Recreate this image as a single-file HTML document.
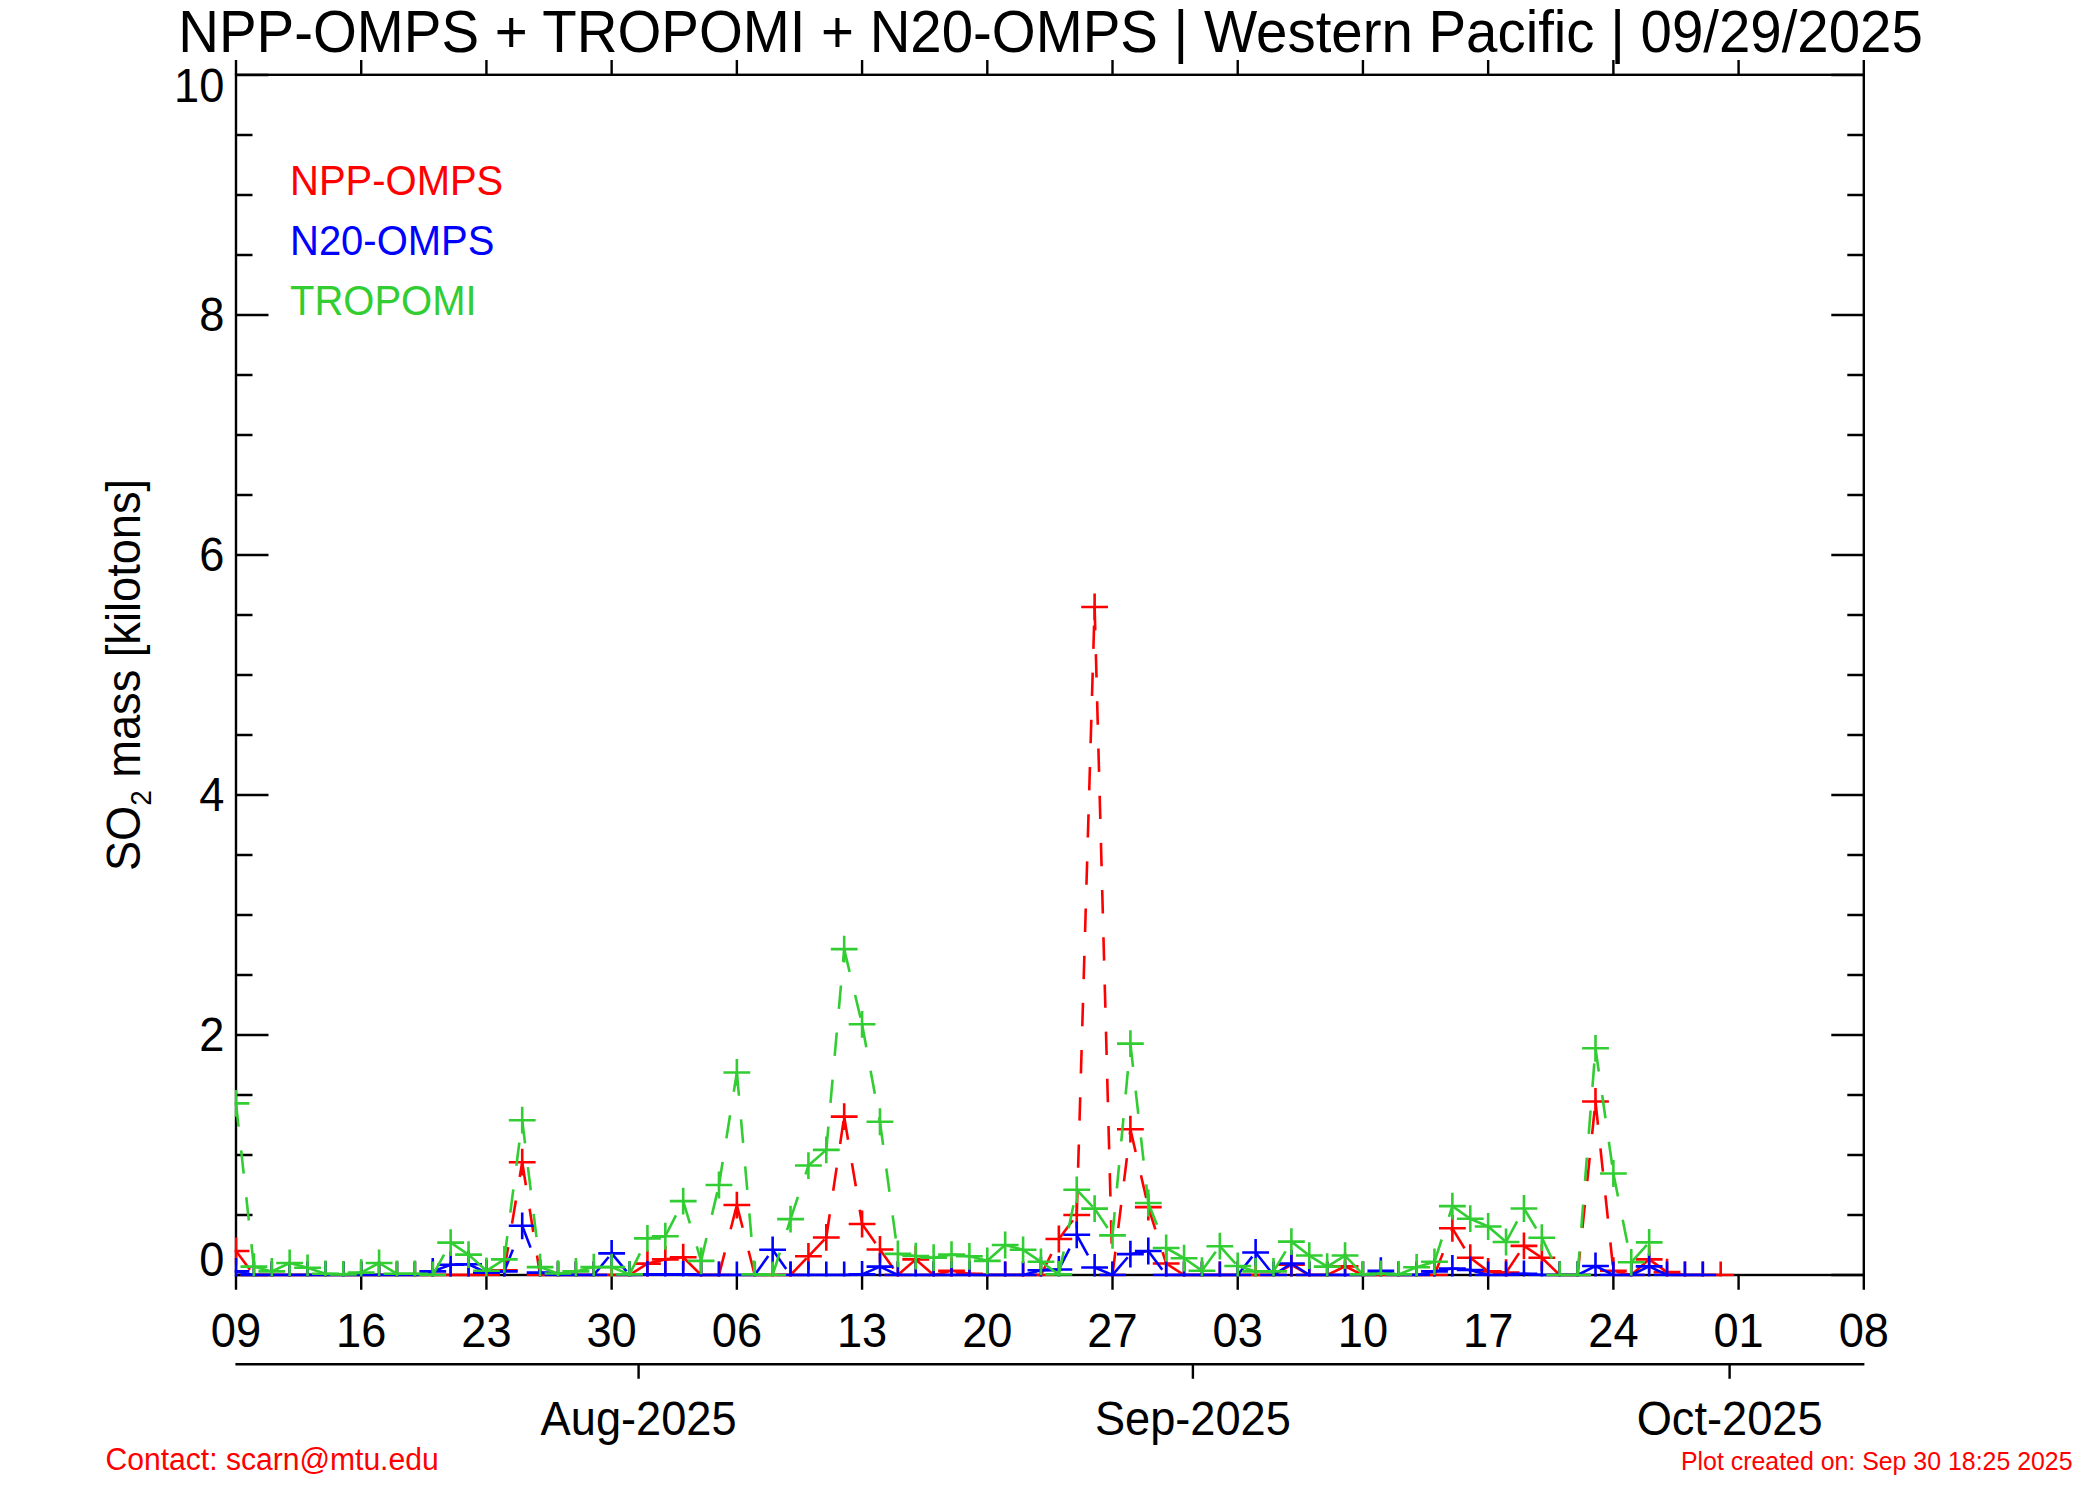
<!DOCTYPE html>
<html><head><meta charset="utf-8"><title>SO2 mass time series</title>
<style>html,body{margin:0;padding:0;background:#fff}svg{display:block}</style></head>
<body><svg width="2100" height="1500" viewBox="0 0 2100 1500">
<rect width="2100" height="1500" fill="#fff"/>
<rect x="236.0" y="74.8" width="1627.8" height="1200.2" fill="none" stroke="#000" stroke-width="2.4"/>
<path d="M236.0 1275.00h32.5M1863.8 1275.00h-32.5M236.0 1215.00h16.5M1863.8 1215.00h-16.5M236.0 1155.00h16.5M1863.8 1155.00h-16.5M236.0 1095.00h16.5M1863.8 1095.00h-16.5M236.0 1035.00h32.5M1863.8 1035.00h-32.5M236.0 975.00h16.5M1863.8 975.00h-16.5M236.0 915.00h16.5M1863.8 915.00h-16.5M236.0 855.00h16.5M1863.8 855.00h-16.5M236.0 795.00h32.5M1863.8 795.00h-32.5M236.0 735.00h16.5M1863.8 735.00h-16.5M236.0 675.00h16.5M1863.8 675.00h-16.5M236.0 615.00h16.5M1863.8 615.00h-16.5M236.0 555.00h32.5M1863.8 555.00h-32.5M236.0 495.00h16.5M1863.8 495.00h-16.5M236.0 435.00h16.5M1863.8 435.00h-16.5M236.0 375.00h16.5M1863.8 375.00h-16.5M236.0 315.00h32.5M1863.8 315.00h-32.5M236.0 255.00h16.5M1863.8 255.00h-16.5M236.0 195.00h16.5M1863.8 195.00h-16.5M236.0 135.00h16.5M1863.8 135.00h-16.5M236.0 75.00h32.5M1863.8 75.00h-32.5M236.00 74.8v-14.8M236.00 1275.0v14.8M361.22 74.8v-14.8M361.22 1275.0v14.8M486.43 74.8v-14.8M486.43 1275.0v14.8M611.65 74.8v-14.8M611.65 1275.0v14.8M736.86 74.8v-14.8M736.86 1275.0v14.8M862.08 74.8v-14.8M862.08 1275.0v14.8M987.30 74.8v-14.8M987.30 1275.0v14.8M1112.51 74.8v-14.8M1112.51 1275.0v14.8M1237.73 74.8v-14.8M1237.73 1275.0v14.8M1362.94 74.8v-14.8M1362.94 1275.0v14.8M1488.16 74.8v-14.8M1488.16 1275.0v14.8M1613.38 74.8v-14.8M1613.38 1275.0v14.8M1738.59 74.8v-14.8M1738.59 1275.0v14.8M1863.81 74.8v-14.8M1863.81 1275.0v14.8M235.40 1364.3H1864.40M638.6 1364.3v14.5M1192.9 1364.3v14.5M1729.6 1364.3v14.5" stroke="#000" stroke-width="2.4" fill="none"/>
<clipPath id="c"><rect x="234.6" y="73.5" width="1630.5" height="1203.1"/></clipPath>
<g clip-path="url(#c)">
<g stroke="#ff0000" stroke-width="2.6" fill="none" stroke-dasharray="23.4 23.8">
<path d="M236.00 1251.00L253.89 1275.00"/>
<path d="M253.89 1275.00L271.78 1275.00"/>
<path d="M271.78 1275.00L289.66 1275.00"/>
<path d="M289.66 1275.00L307.55 1275.00"/>
<path d="M307.55 1275.00L325.44 1275.00"/>
<path d="M325.44 1275.00L343.33 1275.00"/>
<path d="M343.33 1275.00L361.22 1275.00"/>
<path d="M361.22 1275.00L379.10 1275.00"/>
<path d="M379.10 1275.00L396.99 1275.00"/>
<path d="M396.99 1275.00L414.88 1275.00"/>
<path d="M414.88 1275.00L432.77 1275.00"/>
<path d="M432.77 1275.00L450.66 1275.00"/>
<path d="M450.66 1275.00L468.54 1275.00"/>
<path d="M468.54 1275.00L486.43 1275.00"/>
<path d="M486.43 1275.00L504.32 1270.20"/>
<path d="M504.32 1270.20L522.21 1162.20"/>
<path d="M522.21 1162.20L540.10 1275.00"/>
<path d="M540.10 1275.00L557.98 1275.00"/>
<path d="M557.98 1275.00L575.87 1275.00"/>
<path d="M575.87 1275.00L593.76 1275.00"/>
<path d="M593.76 1275.00L611.65 1275.00"/>
<path d="M611.65 1275.00L629.54 1275.00"/>
<path d="M629.54 1275.00L647.42 1263.60"/>
<path d="M647.42 1263.60L665.31 1259.40"/>
<path d="M665.31 1259.40L683.20 1257.24"/>
<path d="M683.20 1257.24L701.09 1275.00"/>
<path d="M701.09 1275.00L718.98 1275.00"/>
<path d="M718.98 1275.00L736.86 1205.04"/>
<path d="M736.86 1205.04L754.75 1275.00"/>
<path d="M754.75 1275.00L772.64 1275.00"/>
<path d="M772.64 1275.00L790.53 1275.00"/>
<path d="M790.53 1275.00L808.42 1256.28"/>
<path d="M808.42 1256.28L826.30 1237.44"/>
<path d="M826.30 1237.44L844.19 1116.60"/>
<path d="M844.19 1116.60L862.08 1224.00"/>
<path d="M862.08 1224.00L879.97 1249.44"/>
<path d="M879.97 1249.44L897.86 1275.00"/>
<path d="M897.86 1275.00L915.74 1259.40"/>
<path d="M915.74 1259.40L933.63 1275.00"/>
<path d="M933.63 1275.00L951.52 1270.80"/>
<path d="M951.52 1270.80L969.41 1273.80"/>
<path d="M969.41 1273.80L987.30 1275.00"/>
<path d="M987.30 1275.00L1005.18 1275.00"/>
<path d="M1005.18 1275.00L1023.07 1275.00"/>
<path d="M1023.07 1275.00L1040.96 1275.00"/>
<path d="M1040.96 1275.00L1058.85 1239.00"/>
<path d="M1058.85 1239.00L1076.74 1215.00"/>
<path d="M1076.74 1215.00L1094.62 606.96"/>
<path d="M1094.62 606.96L1112.51 1275.00"/>
<path d="M1112.51 1275.00L1130.40 1129.20"/>
<path d="M1130.40 1129.20L1148.29 1207.08"/>
<path d="M1148.29 1207.08L1166.18 1263.48"/>
<path d="M1166.18 1263.48L1184.06 1275.00"/>
<path d="M1184.06 1275.00L1201.95 1275.00"/>
<path d="M1201.95 1275.00L1219.84 1275.00"/>
<path d="M1219.84 1275.00L1237.73 1275.00"/>
<path d="M1237.73 1275.00L1255.62 1275.00"/>
<path d="M1255.62 1275.00L1273.50 1275.00"/>
<path d="M1273.50 1275.00L1291.39 1264.80"/>
<path d="M1291.39 1264.80L1309.28 1275.00"/>
<path d="M1309.28 1275.00L1327.17 1275.00"/>
<path d="M1327.17 1275.00L1345.06 1266.36"/>
<path d="M1345.06 1266.36L1362.94 1275.00"/>
<path d="M1362.94 1275.00L1380.83 1275.00"/>
<path d="M1380.83 1275.00L1398.72 1275.00"/>
<path d="M1398.72 1275.00L1416.61 1275.00"/>
<path d="M1416.61 1275.00L1434.50 1275.00"/>
<path d="M1434.50 1275.00L1452.38 1228.32"/>
<path d="M1452.38 1228.32L1470.27 1257.72"/>
<path d="M1470.27 1257.72L1488.16 1271.40"/>
<path d="M1488.16 1271.40L1506.05 1272.60"/>
<path d="M1506.05 1272.60L1523.94 1245.84"/>
<path d="M1523.94 1245.84L1541.82 1257.72"/>
<path d="M1541.82 1257.72L1559.71 1275.00"/>
<path d="M1559.71 1275.00L1577.60 1275.00"/>
<path d="M1577.60 1275.00L1595.49 1101.48"/>
<path d="M1595.49 1101.48L1613.38 1270.68"/>
<path d="M1613.38 1270.68L1631.26 1275.00"/>
<path d="M1631.26 1275.00L1649.15 1259.40"/>
<path d="M1649.15 1259.40L1667.04 1272.12"/>
<path d="M1667.04 1272.12L1684.93 1275.00"/>
<path d="M1684.93 1275.00L1702.82 1275.00"/>
<path d="M1702.82 1275.00L1720.70 1275.00"/>
</g>
<path d="M222.60 1251.00H249.40M236.00 1237.60V1264.40M240.49 1275.00H267.29M253.89 1261.60V1288.40M258.38 1275.00H285.18M271.78 1261.60V1288.40M276.26 1275.00H303.06M289.66 1261.60V1288.40M294.15 1275.00H320.95M307.55 1261.60V1288.40M312.04 1275.00H338.84M325.44 1261.60V1288.40M329.93 1275.00H356.73M343.33 1261.60V1288.40M347.82 1275.00H374.62M361.22 1261.60V1288.40M365.70 1275.00H392.50M379.10 1261.60V1288.40M383.59 1275.00H410.39M396.99 1261.60V1288.40M401.48 1275.00H428.28M414.88 1261.60V1288.40M419.37 1275.00H446.17M432.77 1261.60V1288.40M437.26 1275.00H464.06M450.66 1261.60V1288.40M455.14 1275.00H481.94M468.54 1261.60V1288.40M473.03 1275.00H499.83M486.43 1261.60V1288.40M490.92 1270.20H517.72M504.32 1256.80V1283.60M508.81 1162.20H535.61M522.21 1148.80V1175.60M526.70 1275.00H553.50M540.10 1261.60V1288.40M544.58 1275.00H571.38M557.98 1261.60V1288.40M562.47 1275.00H589.27M575.87 1261.60V1288.40M580.36 1275.00H607.16M593.76 1261.60V1288.40M598.25 1275.00H625.05M611.65 1261.60V1288.40M616.14 1275.00H642.94M629.54 1261.60V1288.40M634.02 1263.60H660.82M647.42 1250.20V1277.00M651.91 1259.40H678.71M665.31 1246.00V1272.80M669.80 1257.24H696.60M683.20 1243.84V1270.64M687.69 1275.00H714.49M701.09 1261.60V1288.40M705.58 1275.00H732.38M718.98 1261.60V1288.40M723.46 1205.04H750.26M736.86 1191.64V1218.44M741.35 1275.00H768.15M754.75 1261.60V1288.40M759.24 1275.00H786.04M772.64 1261.60V1288.40M777.13 1275.00H803.93M790.53 1261.60V1288.40M795.02 1256.28H821.82M808.42 1242.88V1269.68M812.90 1237.44H839.70M826.30 1224.04V1250.84M830.79 1116.60H857.59M844.19 1103.20V1130.00M848.68 1224.00H875.48M862.08 1210.60V1237.40M866.57 1249.44H893.37M879.97 1236.04V1262.84M884.46 1275.00H911.26M897.86 1261.60V1288.40M902.34 1259.40H929.14M915.74 1246.00V1272.80M920.23 1275.00H947.03M933.63 1261.60V1288.40M938.12 1270.80H964.92M951.52 1257.40V1284.20M956.01 1273.80H982.81M969.41 1260.40V1287.20M973.90 1275.00H1000.70M987.30 1261.60V1288.40M991.78 1275.00H1018.58M1005.18 1261.60V1288.40M1009.67 1275.00H1036.47M1023.07 1261.60V1288.40M1027.56 1275.00H1054.36M1040.96 1261.60V1288.40M1045.45 1239.00H1072.25M1058.85 1225.60V1252.40M1063.34 1215.00H1090.14M1076.74 1201.60V1228.40M1081.22 606.96H1108.02M1094.62 593.56V620.36M1099.11 1275.00H1125.91M1112.51 1261.60V1288.40M1117.00 1129.20H1143.80M1130.40 1115.80V1142.60M1134.89 1207.08H1161.69M1148.29 1193.68V1220.48M1152.78 1263.48H1179.58M1166.18 1250.08V1276.88M1170.66 1275.00H1197.46M1184.06 1261.60V1288.40M1188.55 1275.00H1215.35M1201.95 1261.60V1288.40M1206.44 1275.00H1233.24M1219.84 1261.60V1288.40M1224.33 1275.00H1251.13M1237.73 1261.60V1288.40M1242.22 1275.00H1269.02M1255.62 1261.60V1288.40M1260.10 1275.00H1286.90M1273.50 1261.60V1288.40M1277.99 1264.80H1304.79M1291.39 1251.40V1278.20M1295.88 1275.00H1322.68M1309.28 1261.60V1288.40M1313.77 1275.00H1340.57M1327.17 1261.60V1288.40M1331.66 1266.36H1358.46M1345.06 1252.96V1279.76M1349.54 1275.00H1376.34M1362.94 1261.60V1288.40M1367.43 1275.00H1394.23M1380.83 1261.60V1288.40M1385.32 1275.00H1412.12M1398.72 1261.60V1288.40M1403.21 1275.00H1430.01M1416.61 1261.60V1288.40M1421.10 1275.00H1447.90M1434.50 1261.60V1288.40M1438.98 1228.32H1465.78M1452.38 1214.92V1241.72M1456.87 1257.72H1483.67M1470.27 1244.32V1271.12M1474.76 1271.40H1501.56M1488.16 1258.00V1284.80M1492.65 1272.60H1519.45M1506.05 1259.20V1286.00M1510.54 1245.84H1537.34M1523.94 1232.44V1259.24M1528.42 1257.72H1555.22M1541.82 1244.32V1271.12M1546.31 1275.00H1573.11M1559.71 1261.60V1288.40M1564.20 1275.00H1591.00M1577.60 1261.60V1288.40M1582.09 1101.48H1608.89M1595.49 1088.08V1114.88M1599.98 1270.68H1626.78M1613.38 1257.28V1284.08M1617.86 1275.00H1644.66M1631.26 1261.60V1288.40M1635.75 1259.40H1662.55M1649.15 1246.00V1272.80M1653.64 1272.12H1680.44M1667.04 1258.72V1285.52M1671.53 1275.00H1698.33M1684.93 1261.60V1288.40M1689.42 1275.00H1716.22M1702.82 1261.60V1288.40M1707.30 1275.00H1734.10M1720.70 1261.60V1288.40" stroke="#ff0000" stroke-width="2.6" fill="none"/>
<g stroke="#0000ff" stroke-width="2.6" fill="none" stroke-dasharray="23.4 23.8">
<path d="M236.00 1271.40L253.89 1275.00"/>
<path d="M253.89 1275.00L271.78 1275.00"/>
<path d="M271.78 1275.00L289.66 1275.00"/>
<path d="M289.66 1275.00L307.55 1275.00"/>
<path d="M307.55 1275.00L325.44 1275.00"/>
<path d="M325.44 1275.00L343.33 1275.00"/>
<path d="M343.33 1275.00L361.22 1275.00"/>
<path d="M361.22 1275.00L379.10 1275.00"/>
<path d="M379.10 1275.00L396.99 1275.00"/>
<path d="M396.99 1275.00L414.88 1275.00"/>
<path d="M414.88 1275.00L432.77 1271.40"/>
<path d="M432.77 1271.40L450.66 1264.80"/>
<path d="M450.66 1264.80L468.54 1264.20"/>
<path d="M468.54 1264.20L486.43 1272.60"/>
<path d="M486.43 1272.60L504.32 1271.40"/>
<path d="M504.32 1271.40L522.21 1225.80"/>
<path d="M522.21 1225.80L540.10 1272.60"/>
<path d="M540.10 1272.60L557.98 1275.00"/>
<path d="M557.98 1275.00L575.87 1275.00"/>
<path d="M575.87 1275.00L593.76 1275.00"/>
<path d="M593.76 1275.00L611.65 1253.40"/>
<path d="M611.65 1253.40L629.54 1275.00"/>
<path d="M629.54 1275.00L647.42 1274.40"/>
<path d="M647.42 1274.40L665.31 1274.40"/>
<path d="M665.31 1274.40L683.20 1274.40"/>
<path d="M683.20 1274.40L701.09 1275.00"/>
<path d="M701.09 1275.00L718.98 1275.00"/>
<path d="M718.98 1275.00L736.86 1275.00"/>
<path d="M736.86 1275.00L754.75 1275.00"/>
<path d="M754.75 1275.00L772.64 1249.80"/>
<path d="M772.64 1249.80L790.53 1275.00"/>
<path d="M790.53 1275.00L808.42 1275.00"/>
<path d="M808.42 1275.00L826.30 1275.00"/>
<path d="M826.30 1275.00L844.19 1275.00"/>
<path d="M844.19 1275.00L862.08 1274.40"/>
<path d="M862.08 1274.40L879.97 1266.60"/>
<path d="M879.97 1266.60L897.86 1275.00"/>
<path d="M897.86 1275.00L915.74 1275.00"/>
<path d="M915.74 1275.00L933.63 1275.00"/>
<path d="M933.63 1275.00L951.52 1275.00"/>
<path d="M951.52 1275.00L969.41 1275.00"/>
<path d="M969.41 1275.00L987.30 1275.00"/>
<path d="M987.30 1275.00L1005.18 1275.00"/>
<path d="M1005.18 1275.00L1023.07 1275.00"/>
<path d="M1023.07 1275.00L1040.96 1270.20"/>
<path d="M1040.96 1270.20L1058.85 1269.48"/>
<path d="M1058.85 1269.48L1076.74 1234.80"/>
<path d="M1076.74 1234.80L1094.62 1267.44"/>
<path d="M1094.62 1267.44L1112.51 1275.00"/>
<path d="M1112.51 1275.00L1130.40 1254.12"/>
<path d="M1130.40 1254.12L1148.29 1251.00"/>
<path d="M1148.29 1251.00L1166.18 1275.00"/>
<path d="M1166.18 1275.00L1184.06 1275.00"/>
<path d="M1184.06 1275.00L1201.95 1275.00"/>
<path d="M1201.95 1275.00L1219.84 1275.00"/>
<path d="M1219.84 1275.00L1237.73 1275.00"/>
<path d="M1237.73 1275.00L1255.62 1252.44"/>
<path d="M1255.62 1252.44L1273.50 1275.00"/>
<path d="M1273.50 1275.00L1291.39 1263.48"/>
<path d="M1291.39 1263.48L1309.28 1275.00"/>
<path d="M1309.28 1275.00L1327.17 1275.00"/>
<path d="M1327.17 1275.00L1345.06 1275.00"/>
<path d="M1345.06 1275.00L1362.94 1275.00"/>
<path d="M1362.94 1275.00L1380.83 1270.68"/>
<path d="M1380.83 1270.68L1398.72 1275.00"/>
<path d="M1398.72 1275.00L1416.61 1275.00"/>
<path d="M1416.61 1275.00L1434.50 1271.40"/>
<path d="M1434.50 1271.40L1452.38 1268.52"/>
<path d="M1452.38 1268.52L1470.27 1269.96"/>
<path d="M1470.27 1269.96L1488.16 1275.00"/>
<path d="M1488.16 1275.00L1506.05 1275.00"/>
<path d="M1506.05 1275.00L1523.94 1273.80"/>
<path d="M1523.94 1273.80L1541.82 1275.00"/>
<path d="M1541.82 1275.00L1559.71 1275.00"/>
<path d="M1559.71 1275.00L1577.60 1275.00"/>
<path d="M1577.60 1275.00L1595.49 1266.00"/>
<path d="M1595.49 1266.00L1613.38 1275.00"/>
<path d="M1613.38 1275.00L1631.26 1275.00"/>
<path d="M1631.26 1275.00L1649.15 1266.36"/>
<path d="M1649.15 1266.36L1667.04 1275.00"/>
<path d="M1667.04 1275.00L1684.93 1275.00"/>
<path d="M1684.93 1275.00L1702.82 1275.00"/>
</g>
<path d="M222.60 1271.40H249.40M236.00 1258.00V1284.80M240.49 1275.00H267.29M253.89 1261.60V1288.40M258.38 1275.00H285.18M271.78 1261.60V1288.40M276.26 1275.00H303.06M289.66 1261.60V1288.40M294.15 1275.00H320.95M307.55 1261.60V1288.40M312.04 1275.00H338.84M325.44 1261.60V1288.40M329.93 1275.00H356.73M343.33 1261.60V1288.40M347.82 1275.00H374.62M361.22 1261.60V1288.40M365.70 1275.00H392.50M379.10 1261.60V1288.40M383.59 1275.00H410.39M396.99 1261.60V1288.40M401.48 1275.00H428.28M414.88 1261.60V1288.40M419.37 1271.40H446.17M432.77 1258.00V1284.80M437.26 1264.80H464.06M450.66 1251.40V1278.20M455.14 1264.20H481.94M468.54 1250.80V1277.60M473.03 1272.60H499.83M486.43 1259.20V1286.00M490.92 1271.40H517.72M504.32 1258.00V1284.80M508.81 1225.80H535.61M522.21 1212.40V1239.20M526.70 1272.60H553.50M540.10 1259.20V1286.00M544.58 1275.00H571.38M557.98 1261.60V1288.40M562.47 1275.00H589.27M575.87 1261.60V1288.40M580.36 1275.00H607.16M593.76 1261.60V1288.40M598.25 1253.40H625.05M611.65 1240.00V1266.80M616.14 1275.00H642.94M629.54 1261.60V1288.40M634.02 1274.40H660.82M647.42 1261.00V1287.80M651.91 1274.40H678.71M665.31 1261.00V1287.80M669.80 1274.40H696.60M683.20 1261.00V1287.80M687.69 1275.00H714.49M701.09 1261.60V1288.40M705.58 1275.00H732.38M718.98 1261.60V1288.40M723.46 1275.00H750.26M736.86 1261.60V1288.40M741.35 1275.00H768.15M754.75 1261.60V1288.40M759.24 1249.80H786.04M772.64 1236.40V1263.20M777.13 1275.00H803.93M790.53 1261.60V1288.40M795.02 1275.00H821.82M808.42 1261.60V1288.40M812.90 1275.00H839.70M826.30 1261.60V1288.40M830.79 1275.00H857.59M844.19 1261.60V1288.40M848.68 1274.40H875.48M862.08 1261.00V1287.80M866.57 1266.60H893.37M879.97 1253.20V1280.00M884.46 1275.00H911.26M897.86 1261.60V1288.40M902.34 1275.00H929.14M915.74 1261.60V1288.40M920.23 1275.00H947.03M933.63 1261.60V1288.40M938.12 1275.00H964.92M951.52 1261.60V1288.40M956.01 1275.00H982.81M969.41 1261.60V1288.40M973.90 1275.00H1000.70M987.30 1261.60V1288.40M991.78 1275.00H1018.58M1005.18 1261.60V1288.40M1009.67 1275.00H1036.47M1023.07 1261.60V1288.40M1027.56 1270.20H1054.36M1040.96 1256.80V1283.60M1045.45 1269.48H1072.25M1058.85 1256.08V1282.88M1063.34 1234.80H1090.14M1076.74 1221.40V1248.20M1081.22 1267.44H1108.02M1094.62 1254.04V1280.84M1099.11 1275.00H1125.91M1112.51 1261.60V1288.40M1117.00 1254.12H1143.80M1130.40 1240.72V1267.52M1134.89 1251.00H1161.69M1148.29 1237.60V1264.40M1152.78 1275.00H1179.58M1166.18 1261.60V1288.40M1170.66 1275.00H1197.46M1184.06 1261.60V1288.40M1188.55 1275.00H1215.35M1201.95 1261.60V1288.40M1206.44 1275.00H1233.24M1219.84 1261.60V1288.40M1224.33 1275.00H1251.13M1237.73 1261.60V1288.40M1242.22 1252.44H1269.02M1255.62 1239.04V1265.84M1260.10 1275.00H1286.90M1273.50 1261.60V1288.40M1277.99 1263.48H1304.79M1291.39 1250.08V1276.88M1295.88 1275.00H1322.68M1309.28 1261.60V1288.40M1313.77 1275.00H1340.57M1327.17 1261.60V1288.40M1331.66 1275.00H1358.46M1345.06 1261.60V1288.40M1349.54 1275.00H1376.34M1362.94 1261.60V1288.40M1367.43 1270.68H1394.23M1380.83 1257.28V1284.08M1385.32 1275.00H1412.12M1398.72 1261.60V1288.40M1403.21 1275.00H1430.01M1416.61 1261.60V1288.40M1421.10 1271.40H1447.90M1434.50 1258.00V1284.80M1438.98 1268.52H1465.78M1452.38 1255.12V1281.92M1456.87 1269.96H1483.67M1470.27 1256.56V1283.36M1474.76 1275.00H1501.56M1488.16 1261.60V1288.40M1492.65 1275.00H1519.45M1506.05 1261.60V1288.40M1510.54 1273.80H1537.34M1523.94 1260.40V1287.20M1528.42 1275.00H1555.22M1541.82 1261.60V1288.40M1546.31 1275.00H1573.11M1559.71 1261.60V1288.40M1564.20 1275.00H1591.00M1577.60 1261.60V1288.40M1582.09 1266.00H1608.89M1595.49 1252.60V1279.40M1599.98 1275.00H1626.78M1613.38 1261.60V1288.40M1617.86 1275.00H1644.66M1631.26 1261.60V1288.40M1635.75 1266.36H1662.55M1649.15 1252.96V1279.76M1653.64 1275.00H1680.44M1667.04 1261.60V1288.40M1671.53 1275.00H1698.33M1684.93 1261.60V1288.40M1689.42 1275.00H1716.22M1702.82 1261.60V1288.40" stroke="#0000ff" stroke-width="2.6" fill="none"/>
<g stroke="#32cd32" stroke-width="2.6" fill="none" stroke-dasharray="23.4 23.8">
<path d="M236.00 1103.40L253.89 1266.60"/>
<path d="M253.89 1266.60L271.78 1271.40"/>
<path d="M271.78 1271.40L289.66 1263.00"/>
<path d="M289.66 1263.00L307.55 1267.80"/>
<path d="M307.55 1267.80L325.44 1273.80"/>
<path d="M325.44 1273.80L343.33 1274.40"/>
<path d="M343.33 1274.40L361.22 1272.60"/>
<path d="M361.22 1272.60L379.10 1263.00"/>
<path d="M379.10 1263.00L396.99 1273.80"/>
<path d="M396.99 1273.80L414.88 1273.80"/>
<path d="M414.88 1273.80L432.77 1275.00"/>
<path d="M432.77 1275.00L450.66 1242.60"/>
<path d="M450.66 1242.60L468.54 1254.60"/>
<path d="M468.54 1254.60L486.43 1270.80"/>
<path d="M486.43 1270.80L504.32 1259.40"/>
<path d="M504.32 1259.40L522.21 1120.20"/>
<path d="M522.21 1120.20L540.10 1267.08"/>
<path d="M540.10 1267.08L557.98 1273.56"/>
<path d="M557.98 1273.56L575.87 1271.40"/>
<path d="M575.87 1271.40L593.76 1267.08"/>
<path d="M593.76 1267.08L611.65 1267.08"/>
<path d="M611.65 1267.08L629.54 1274.40"/>
<path d="M629.54 1274.40L647.42 1238.40"/>
<path d="M647.42 1238.40L665.31 1236.24"/>
<path d="M665.31 1236.24L683.20 1201.08"/>
<path d="M683.20 1201.08L701.09 1260.84"/>
<path d="M701.09 1260.84L718.98 1185.00"/>
<path d="M718.98 1185.00L736.86 1072.44"/>
<path d="M736.86 1072.44L754.75 1274.40"/>
<path d="M754.75 1274.40L772.64 1275.00"/>
<path d="M772.64 1275.00L790.53 1219.08"/>
<path d="M790.53 1219.08L808.42 1165.56"/>
<path d="M808.42 1165.56L826.30 1149.84"/>
<path d="M826.30 1149.84L844.19 949.08"/>
<path d="M844.19 949.08L862.08 1024.32"/>
<path d="M862.08 1024.32L879.97 1121.76"/>
<path d="M879.97 1121.76L897.86 1253.88"/>
<path d="M897.86 1253.88L915.74 1256.04"/>
<path d="M915.74 1256.04L933.63 1257.72"/>
<path d="M933.63 1257.72L951.52 1254.60"/>
<path d="M951.52 1254.60L969.41 1256.28"/>
<path d="M969.41 1256.28L987.30 1260.84"/>
<path d="M987.30 1260.84L1005.18 1245.00"/>
<path d="M1005.18 1245.00L1023.07 1249.80"/>
<path d="M1023.07 1249.80L1040.96 1261.80"/>
<path d="M1040.96 1261.80L1058.85 1274.40"/>
<path d="M1058.85 1274.40L1076.74 1189.80"/>
<path d="M1076.74 1189.80L1094.62 1208.64"/>
<path d="M1094.62 1208.64L1112.51 1235.40"/>
<path d="M1112.51 1235.40L1130.40 1043.64"/>
<path d="M1130.40 1043.64L1148.29 1203.00"/>
<path d="M1148.29 1203.00L1166.18 1248.00"/>
<path d="M1166.18 1248.00L1184.06 1258.20"/>
<path d="M1184.06 1258.20L1201.95 1270.68"/>
<path d="M1201.95 1270.68L1219.84 1246.20"/>
<path d="M1219.84 1246.20L1237.73 1266.00"/>
<path d="M1237.73 1266.00L1255.62 1271.40"/>
<path d="M1255.62 1271.40L1273.50 1271.40"/>
<path d="M1273.50 1271.40L1291.39 1241.64"/>
<path d="M1291.39 1241.64L1309.28 1255.56"/>
<path d="M1309.28 1255.56L1327.17 1266.60"/>
<path d="M1327.17 1266.60L1345.06 1255.56"/>
<path d="M1345.06 1255.56L1362.94 1274.40"/>
<path d="M1362.94 1274.40L1380.83 1273.80"/>
<path d="M1380.83 1273.80L1398.72 1274.40"/>
<path d="M1398.72 1274.40L1416.61 1267.32"/>
<path d="M1416.61 1267.32L1434.50 1261.80"/>
<path d="M1434.50 1261.80L1452.38 1206.12"/>
<path d="M1452.38 1206.12L1470.27 1218.72"/>
<path d="M1470.27 1218.72L1488.16 1226.52"/>
<path d="M1488.16 1226.52L1506.05 1242.00"/>
<path d="M1506.05 1242.00L1523.94 1208.52"/>
<path d="M1523.94 1208.52L1541.82 1237.68"/>
<path d="M1541.82 1237.68L1559.71 1275.00"/>
<path d="M1559.71 1275.00L1577.60 1275.00"/>
<path d="M1577.60 1275.00L1595.49 1048.32"/>
<path d="M1595.49 1048.32L1613.38 1173.48"/>
<path d="M1613.38 1173.48L1631.26 1262.28"/>
<path d="M1631.26 1262.28L1649.15 1242.36"/>
</g>
<path d="M222.60 1103.40H249.40M236.00 1090.00V1116.80M240.49 1266.60H267.29M253.89 1253.20V1280.00M258.38 1271.40H285.18M271.78 1258.00V1284.80M276.26 1263.00H303.06M289.66 1249.60V1276.40M294.15 1267.80H320.95M307.55 1254.40V1281.20M312.04 1273.80H338.84M325.44 1260.40V1287.20M329.93 1274.40H356.73M343.33 1261.00V1287.80M347.82 1272.60H374.62M361.22 1259.20V1286.00M365.70 1263.00H392.50M379.10 1249.60V1276.40M383.59 1273.80H410.39M396.99 1260.40V1287.20M401.48 1273.80H428.28M414.88 1260.40V1287.20M419.37 1275.00H446.17M432.77 1261.60V1288.40M437.26 1242.60H464.06M450.66 1229.20V1256.00M455.14 1254.60H481.94M468.54 1241.20V1268.00M473.03 1270.80H499.83M486.43 1257.40V1284.20M490.92 1259.40H517.72M504.32 1246.00V1272.80M508.81 1120.20H535.61M522.21 1106.80V1133.60M526.70 1267.08H553.50M540.10 1253.68V1280.48M544.58 1273.56H571.38M557.98 1260.16V1286.96M562.47 1271.40H589.27M575.87 1258.00V1284.80M580.36 1267.08H607.16M593.76 1253.68V1280.48M598.25 1267.08H625.05M611.65 1253.68V1280.48M616.14 1274.40H642.94M629.54 1261.00V1287.80M634.02 1238.40H660.82M647.42 1225.00V1251.80M651.91 1236.24H678.71M665.31 1222.84V1249.64M669.80 1201.08H696.60M683.20 1187.68V1214.48M687.69 1260.84H714.49M701.09 1247.44V1274.24M705.58 1185.00H732.38M718.98 1171.60V1198.40M723.46 1072.44H750.26M736.86 1059.04V1085.84M741.35 1274.40H768.15M754.75 1261.00V1287.80M759.24 1275.00H786.04M772.64 1261.60V1288.40M777.13 1219.08H803.93M790.53 1205.68V1232.48M795.02 1165.56H821.82M808.42 1152.16V1178.96M812.90 1149.84H839.70M826.30 1136.44V1163.24M830.79 949.08H857.59M844.19 935.68V962.48M848.68 1024.32H875.48M862.08 1010.92V1037.72M866.57 1121.76H893.37M879.97 1108.36V1135.16M884.46 1253.88H911.26M897.86 1240.48V1267.28M902.34 1256.04H929.14M915.74 1242.64V1269.44M920.23 1257.72H947.03M933.63 1244.32V1271.12M938.12 1254.60H964.92M951.52 1241.20V1268.00M956.01 1256.28H982.81M969.41 1242.88V1269.68M973.90 1260.84H1000.70M987.30 1247.44V1274.24M991.78 1245.00H1018.58M1005.18 1231.60V1258.40M1009.67 1249.80H1036.47M1023.07 1236.40V1263.20M1027.56 1261.80H1054.36M1040.96 1248.40V1275.20M1045.45 1274.40H1072.25M1058.85 1261.00V1287.80M1063.34 1189.80H1090.14M1076.74 1176.40V1203.20M1081.22 1208.64H1108.02M1094.62 1195.24V1222.04M1099.11 1235.40H1125.91M1112.51 1222.00V1248.80M1117.00 1043.64H1143.80M1130.40 1030.24V1057.04M1134.89 1203.00H1161.69M1148.29 1189.60V1216.40M1152.78 1248.00H1179.58M1166.18 1234.60V1261.40M1170.66 1258.20H1197.46M1184.06 1244.80V1271.60M1188.55 1270.68H1215.35M1201.95 1257.28V1284.08M1206.44 1246.20H1233.24M1219.84 1232.80V1259.60M1224.33 1266.00H1251.13M1237.73 1252.60V1279.40M1242.22 1271.40H1269.02M1255.62 1258.00V1284.80M1260.10 1271.40H1286.90M1273.50 1258.00V1284.80M1277.99 1241.64H1304.79M1291.39 1228.24V1255.04M1295.88 1255.56H1322.68M1309.28 1242.16V1268.96M1313.77 1266.60H1340.57M1327.17 1253.20V1280.00M1331.66 1255.56H1358.46M1345.06 1242.16V1268.96M1349.54 1274.40H1376.34M1362.94 1261.00V1287.80M1367.43 1273.80H1394.23M1380.83 1260.40V1287.20M1385.32 1274.40H1412.12M1398.72 1261.00V1287.80M1403.21 1267.32H1430.01M1416.61 1253.92V1280.72M1421.10 1261.80H1447.90M1434.50 1248.40V1275.20M1438.98 1206.12H1465.78M1452.38 1192.72V1219.52M1456.87 1218.72H1483.67M1470.27 1205.32V1232.12M1474.76 1226.52H1501.56M1488.16 1213.12V1239.92M1492.65 1242.00H1519.45M1506.05 1228.60V1255.40M1510.54 1208.52H1537.34M1523.94 1195.12V1221.92M1528.42 1237.68H1555.22M1541.82 1224.28V1251.08M1546.31 1275.00H1573.11M1559.71 1261.60V1288.40M1564.20 1275.00H1591.00M1577.60 1261.60V1288.40M1582.09 1048.32H1608.89M1595.49 1034.92V1061.72M1599.98 1173.48H1626.78M1613.38 1160.08V1186.88M1617.86 1262.28H1644.66M1631.26 1248.88V1275.68M1635.75 1242.36H1662.55M1649.15 1228.96V1255.76" stroke="#32cd32" stroke-width="2.6" fill="none"/>
</g>
<g font-family="'Liberation Sans', sans-serif" fill="#000"><text transform="translate(1050.5 52.2) scale(1 1.044)" font-size="56.4" text-anchor="middle">NPP-OMPS + TROPOMI + N20-OMPS | Western Pacific | 09/29/2025</text>
<text transform="translate(224.3 1275.7) scale(1 1.044)" font-size="45.2" text-anchor="end">0</text>
<text transform="translate(224.3 1051.3) scale(1 1.044)" font-size="45.2" text-anchor="end">2</text>
<text transform="translate(224.3 811.3) scale(1 1.044)" font-size="45.2" text-anchor="end">4</text>
<text transform="translate(224.3 571.3) scale(1 1.044)" font-size="45.2" text-anchor="end">6</text>
<text transform="translate(224.3 331.3) scale(1 1.044)" font-size="45.2" text-anchor="end">8</text>
<text transform="translate(224.3 102.3) scale(1 1.044)" font-size="45.2" text-anchor="end">10</text>
<text transform="translate(236.0 1347) scale(1 1.044)" font-size="45.2" text-anchor="middle">09</text>
<text transform="translate(361.2 1347) scale(1 1.044)" font-size="45.2" text-anchor="middle">16</text>
<text transform="translate(486.4 1347) scale(1 1.044)" font-size="45.2" text-anchor="middle">23</text>
<text transform="translate(611.6 1347) scale(1 1.044)" font-size="45.2" text-anchor="middle">30</text>
<text transform="translate(736.9 1347) scale(1 1.044)" font-size="45.2" text-anchor="middle">06</text>
<text transform="translate(862.1 1347) scale(1 1.044)" font-size="45.2" text-anchor="middle">13</text>
<text transform="translate(987.3 1347) scale(1 1.044)" font-size="45.2" text-anchor="middle">20</text>
<text transform="translate(1112.5 1347) scale(1 1.044)" font-size="45.2" text-anchor="middle">27</text>
<text transform="translate(1237.7 1347) scale(1 1.044)" font-size="45.2" text-anchor="middle">03</text>
<text transform="translate(1362.9 1347) scale(1 1.044)" font-size="45.2" text-anchor="middle">10</text>
<text transform="translate(1488.2 1347) scale(1 1.044)" font-size="45.2" text-anchor="middle">17</text>
<text transform="translate(1613.4 1347) scale(1 1.044)" font-size="45.2" text-anchor="middle">24</text>
<text transform="translate(1738.6 1347) scale(1 1.044)" font-size="45.2" text-anchor="middle">01</text>
<text transform="translate(1863.8 1347) scale(1 1.044)" font-size="45.2" text-anchor="middle">08</text>
<text transform="translate(638.6 1435) scale(1 1.044)" font-size="45.2" text-anchor="middle">Aug-2025</text>
<text transform="translate(1192.9 1435) scale(1 1.044)" font-size="45.2" text-anchor="middle">Sep-2025</text>
<text transform="translate(1729.6 1435) scale(1 1.044)" font-size="45.2" text-anchor="middle">Oct-2025</text>
<text transform="translate(139.8 675) rotate(-90) scale(1 1.044)" font-size="45.2" text-anchor="middle">SO<tspan font-size="28" dy="10.5">2</tspan><tspan dy="-10.5"> mass [kilotons]</tspan></text>
<text transform="translate(290 195) scale(1 1.044)" font-size="40" fill="#ff0000">NPP-OMPS</text>
<text transform="translate(290 255) scale(1 1.044)" font-size="40" fill="#0000ff">N20-OMPS</text>
<text transform="translate(290 315) scale(1 1.044)" font-size="40" fill="#32cd32">TROPOMI</text>
<text transform="translate(105.5 1470) scale(1 1.044)" font-size="30.1" fill="#ff0000">Contact: scarn@mtu.edu</text>
<text transform="translate(2072.5 1470) scale(1 1.044)" font-size="24.9" text-anchor="end" fill="#ff0000">Plot created on: Sep 30 18:25 2025</text></g>
</svg></body></html>
